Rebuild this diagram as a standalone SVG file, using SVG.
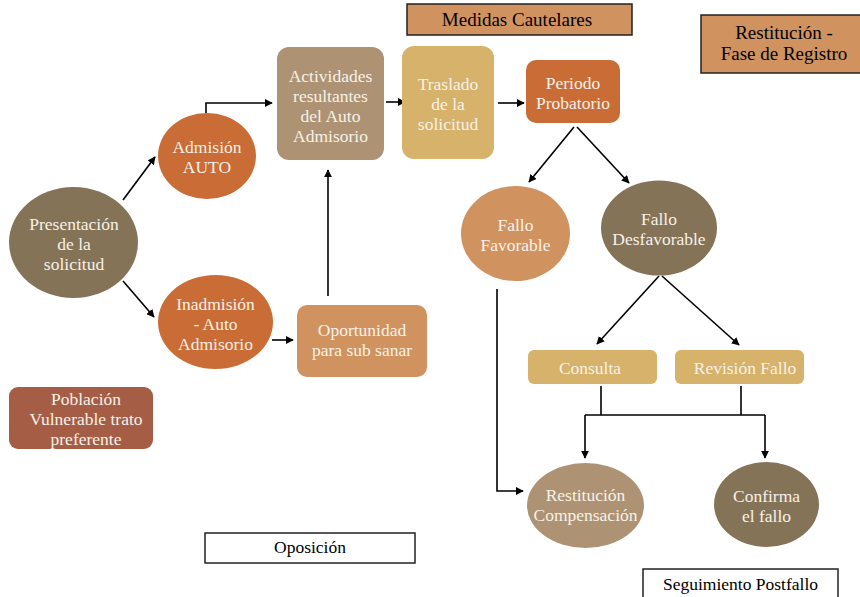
<svg xmlns="http://www.w3.org/2000/svg" width="860" height="597" viewBox="0 0 860 597">
<style>
.t{font-family:"Liberation Serif","DejaVu Serif",serif;font-size:17.5px;fill:#f7f1e8;text-anchor:middle}
.k{font-family:"Liberation Serif","DejaVu Serif",serif;font-size:17.5px;fill:#000;text-anchor:middle}
.kb{font-size:19px}
.c{fill:none;stroke:#000;stroke-width:1.6}
.lab{stroke:#222;stroke-width:1.5}
</style>
<defs>
<marker id="a" viewBox="0 0 10 10" refX="9" refY="5" markerWidth="8" markerHeight="8" markerUnits="userSpaceOnUse" orient="auto">
<path d="M0,0 L10,5 L0,10 z" fill="#000"/>
</marker>
</defs>
<rect width="860" height="597" fill="#fff"/>
<g id="connectors">
<line class="c" x1="123" y1="200" x2="155" y2="157" marker-end="url(#a)"/>
<line class="c" x1="123" y1="281" x2="154" y2="317" marker-end="url(#a)"/>
<polyline class="c" points="206,113 206,103 272,103" marker-end="url(#a)"/>
<line class="c" x1="386" y1="102" x2="405" y2="102" marker-end="url(#a)"/>
<line class="c" x1="498" y1="103" x2="524" y2="103" marker-end="url(#a)"/>
<line class="c" x1="328" y1="296" x2="328" y2="170" marker-end="url(#a)"/>
<line class="c" x1="272" y1="340" x2="293" y2="340" marker-end="url(#a)"/>
<line class="c" x1="574" y1="127" x2="529" y2="182" marker-end="url(#a)"/>
<line class="c" x1="577" y1="127" x2="629" y2="183" marker-end="url(#a)"/>
<line class="c" x1="659" y1="276" x2="597" y2="344" marker-end="url(#a)"/>
<line class="c" x1="662" y1="276" x2="739" y2="345" marker-end="url(#a)"/>
<polyline class="c" points="601,386 601,415"/>
<polyline class="c" points="741,386 741,415"/>
<polyline class="c" points="585,415 765,415"/>
<line class="c" x1="585" y1="415" x2="585" y2="458" marker-end="url(#a)"/>
<line class="c" x1="765" y1="415" x2="765" y2="458" marker-end="url(#a)"/>
<polyline class="c" points="497,289 497,491 523,491" marker-end="url(#a)"/>
</g>
<g id="presentacion">
<ellipse cx="73.5" cy="242.5" rx="64.5" ry="55.5" fill="#857358"/>
<text class="t" x="74" y="230">Presentación</text>
<text class="t" x="74" y="250">de la</text>
<text class="t" x="74" y="270">solicitud</text>
</g>
<g id="admision">
<ellipse cx="207" cy="156" rx="49" ry="43" fill="#C96C35"/>
<text class="t" x="207" y="153">Admisión</text>
<text class="t" x="207" y="173">AUTO</text>
</g>
<g id="inadmision">
<ellipse cx="215.5" cy="322" rx="57.5" ry="47" fill="#C96C35"/>
<text class="t" x="215.5" y="310">Inadmisión</text>
<text class="t" x="215.5" y="330">- Auto</text>
<text class="t" x="215.5" y="350">Admisorio</text>
</g>
<g id="actividades">
<rect x="277" y="47" width="107" height="113" rx="12" fill="#AD9373"/>
<text class="t" x="330.5" y="82">Actividades</text>
<text class="t" x="330.5" y="102">resultantes</text>
<text class="t" x="330.5" y="122">del Auto</text>
<text class="t" x="330.5" y="142">Admisorio</text>
</g>
<g id="traslado">
<rect x="402" y="46" width="92" height="113" rx="12" fill="#D6B26A"/>
<text class="t" x="448" y="90">Traslado</text>
<text class="t" x="448" y="110">de la</text>
<text class="t" x="448" y="130">solicitud</text>
</g>
<g id="periodo">
<rect x="526" y="60" width="94" height="63" rx="10" fill="#C96C35"/>
<text class="t" x="573" y="89">Periodo</text>
<text class="t" x="573" y="109">Probatorio</text>
</g>
<g id="medidas">
<rect class="lab" x="407" y="4" width="225" height="31" fill="#D09360"/>
<text class="k kb" x="517" y="26">Medidas Cautelares</text>
</g>
<g id="restitucion-registro">
<rect class="lab" x="701" y="15" width="162" height="58" fill="#D09360"/>
<text class="k kb" x="784" y="39">Restitución -</text>
<text class="k kb" x="784" y="60">Fase de Registro</text>
</g>
<g id="fallo-favorable">
<ellipse cx="515.5" cy="233.5" rx="54.5" ry="47.5" fill="#D09360"/>
<text class="t" x="515.5" y="231">Fallo</text>
<text class="t" x="515.5" y="251">Favorable</text>
</g>
<g id="fallo-desfavorable">
<ellipse cx="659" cy="228" rx="58" ry="47.5" fill="#857358"/>
<text class="t" x="659" y="225">Fallo</text>
<text class="t" x="659" y="245">Desfavorable</text>
</g>
<g id="oportunidad">
<rect x="297" y="305" width="130" height="72" rx="10" fill="#D09360"/>
<text class="t" x="362" y="336">Oportunidad</text>
<text class="t" x="362" y="356">para sub sanar</text>
</g>
<g id="poblacion">
<rect x="9" y="387" width="144" height="62" rx="9" fill="#A65D45"/>
<text class="t" x="86" y="405">Población</text>
<text class="t" x="86" y="425">Vulnerable trato</text>
<text class="t" x="86" y="445">preferente</text>
</g>
<g id="oposicion">
<rect class="lab" x="205" y="533" width="210" height="30" fill="#fff"/>
<text class="k" x="310" y="553">Oposición</text>
</g>
<g id="consulta">
<rect x="528" y="350" width="129" height="34" rx="6" fill="#D6B26A"/>
<text class="t" x="590" y="374">Consulta</text>
</g>
<g id="revision">
<rect x="675" y="350" width="129" height="34" rx="6" fill="#D6B26A"/>
<text class="t" x="745" y="374">Revisión Fallo</text>
</g>
<g id="restitucion-compensacion">
<ellipse cx="585.5" cy="505.5" rx="58.5" ry="42.5" fill="#AD9373"/>
<text class="t" x="585.5" y="501">Restitución</text>
<text class="t" x="585.5" y="521">Compensación</text>
</g>
<g id="confirma">
<ellipse cx="766.5" cy="504.5" rx="52.5" ry="42.5" fill="#857358"/>
<text class="t" x="766.5" y="502">Confirma</text>
<text class="t" x="766.5" y="522">el fallo</text>
</g>
<g id="seguimiento">
<rect class="lab" x="643" y="569" width="195" height="35" fill="#fff"/>
<text class="k" x="740.5" y="590">Seguimiento Postfallo</text>
</g>
</svg>
